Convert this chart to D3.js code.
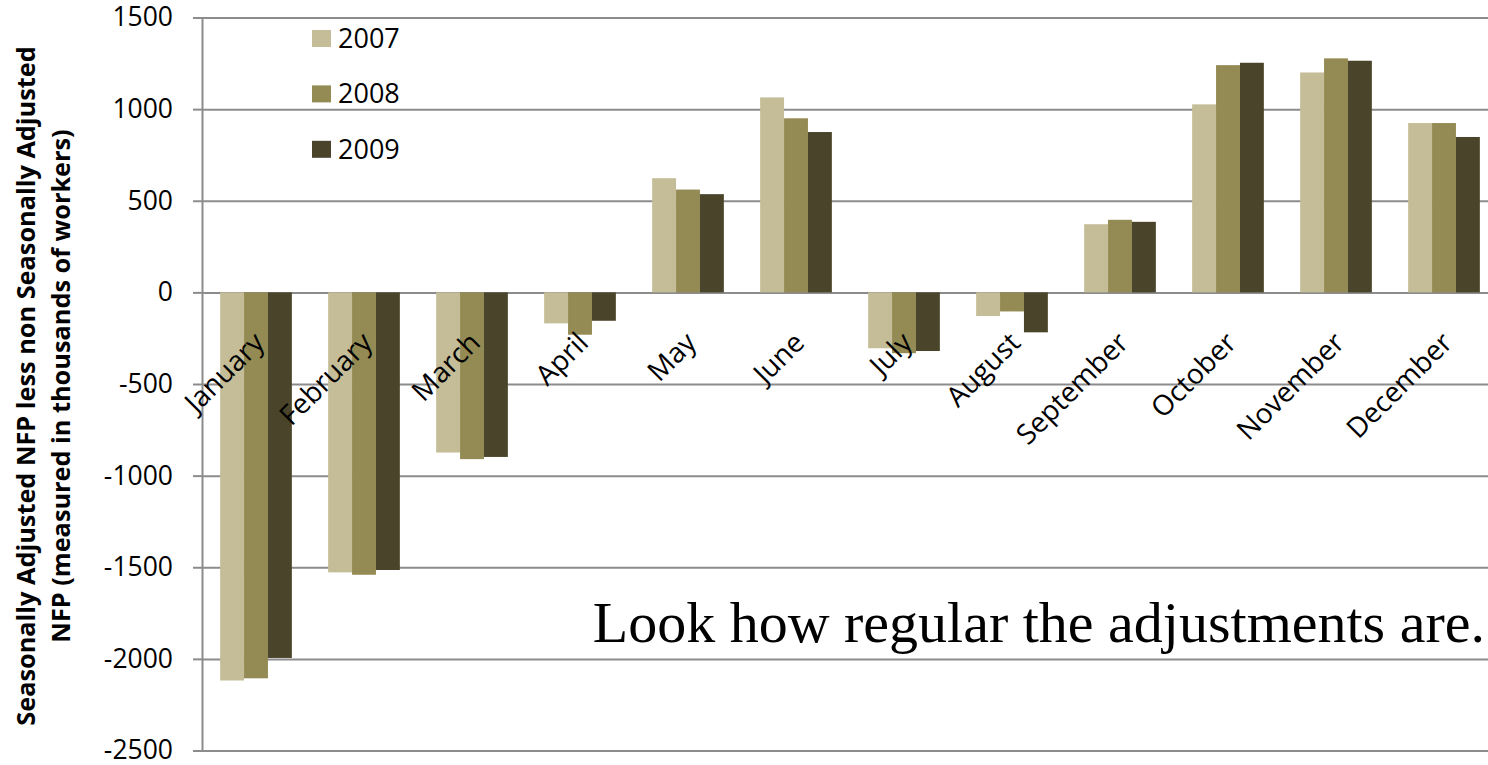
<!DOCTYPE html>
<html>
<head>
<meta charset="utf-8">
<script src="https://cdn.jsdelivr.net/npm/d3@7"></script>
<style>
  html, body { margin: 0; padding: 0; background: #fff; }
  svg { display: block; }
</style>
</head>
<body>
<svg id="chart" width="1488" height="765"></svg>
<script>
const months = ["January","February","March","April","May","June","July","August","September","October","November","December"];
const seriesNames = ["2007","2008","2009"];
const values2007 = [-2118,-1528,-874,-169,623,1064,-305,-129,372,1026,1200,924];
const values2008 = [-2106,-1541,-910,-231,561,950,-332,-104,396,1240,1277,924];
const values2009 = [-1995,-1515,-898,-155,536,875,-320,-218,385,1253,1264,848];
const yTicks = [-2500,-2000,-1500,-1000,-500,0,500,1000,1500];
const colors = ["#c4bd97","#948a54","#4a452a"];
const yTitle1 = "Seasonally Adjusted NFP less non Seasonally  Adjusted";
const yTitle2 = "NFP (measured in thousands of workers)";
const note = "Look how regular the adjustments are.";

const allSeries = [values2007, values2008, values2009];
const svg = d3.select("#chart");

const x0 = d3.scaleBand().domain(months).range([202, 1498]).paddingInner(0.336).paddingOuter(0.168);
const x1 = d3.scaleBand().domain(seriesNames).range([0, x0.bandwidth()]);
const y = d3.scaleLinear().domain([-2500, 1500]).range([750.5, 17.5]);
const color = d3.scaleOrdinal().domain(seriesNames).range(colors);

const font = "'Open Sans', sans-serif";

// gridlines + y axis
const yAxis = d3.axisLeft(y).tickValues(yTicks).tickSize(9).tickPadding(20).tickFormat(d => String(d));
const gy = svg.append("g").attr("transform", "translate(202,0)").call(yAxis);
gy.select(".domain").attr("stroke", "#8c8c8c").attr("stroke-width", 2);
gy.selectAll(".tick line").attr("stroke", "#8c8c8c").attr("stroke-width", 2);
gy.selectAll(".tick text").attr("font-family", font).attr("font-size", 26.5).attr("fill", "#000");
gy.selectAll(".tick").append("line")
  .attr("x1", 0).attr("x2", 1300)
  .attr("stroke", "#8c8c8c").attr("stroke-width", 2);

// bars
const groups = svg.append("g").selectAll("g")
  .data(months).join("g")
  .attr("transform", d => `translate(${x0(d)},0)`);
groups.selectAll("rect")
  .data((m, i) => seriesNames.map((s, k) => ({ s, v: allSeries[k][i] })))
  .join("rect")
  .attr("x", d => x1(d.s))
  .attr("width", x1.bandwidth())
  .attr("y", d => y(Math.max(0, d.v)))
  .attr("height", d => Math.abs(y(d.v) - y(0)))
  .attr("fill", d => color(d.s));

// month labels
svg.append("g").selectAll("text")
  .data(months).join("text")
  .attr("transform", d => `translate(${x0(d) + x0.bandwidth() / 2 + 10},${y(0) + 52}) rotate(-45)`)
  .attr("text-anchor", "end")
  .attr("font-family", font).attr("font-size", 28)
  .text(d => d);

// legend
const leg = svg.append("g").selectAll("g")
  .data(seriesNames).join("g")
  .attr("transform", (d, i) => `translate(312,${38.5 + i * 55.4})`);
leg.append("rect").attr("x", 0).attr("y", -8.5).attr("width", 19).attr("height", 17).attr("fill", d => color(d));
leg.append("text").attr("x", 26).attr("y", 0).attr("dy", "0.35em")
  .attr("font-family", font).attr("font-size", 27).text(d => d);

// y title
svg.append("text")
  .attr("transform", "translate(35,386) rotate(-90)")
  .attr("text-anchor", "middle").attr("font-family", font).attr("font-weight", "bold").attr("font-size", 25.3)
  .text(yTitle1);
svg.append("text")
  .attr("transform", "translate(70,386) rotate(-90)")
  .attr("text-anchor", "middle").attr("font-family", font).attr("font-weight", "bold").attr("font-size", 25.3)
  .text(yTitle2);

// annotation
svg.append("text")
  .attr("x", 1485).attr("y", 642).attr("text-anchor", "end")
  .attr("font-family", "'Liberation Serif', 'Times New Roman', serif").attr("font-size", 58)
  .text(note);
</script>
</body>
</html>
